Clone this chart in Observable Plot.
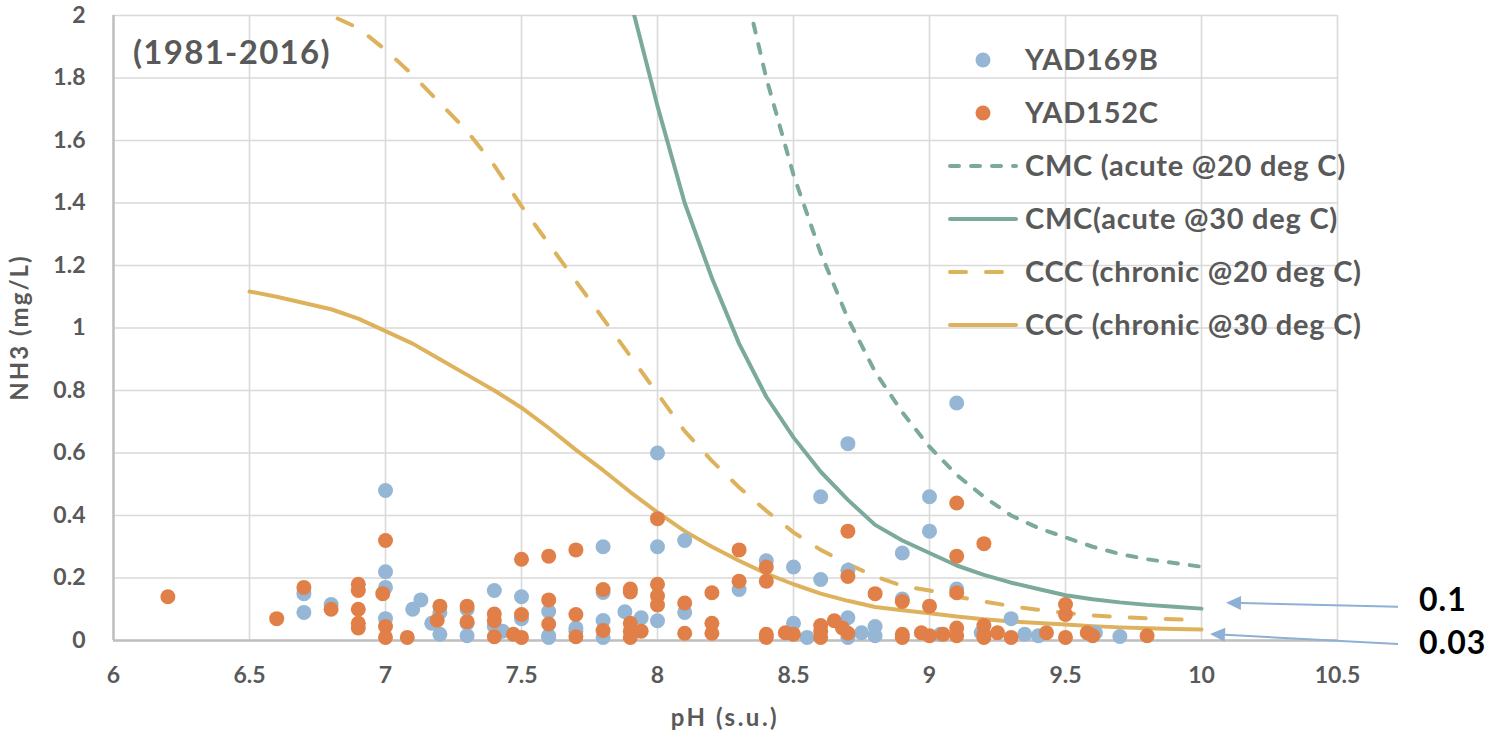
<!DOCTYPE html>
<html><head><meta charset="utf-8">
<script src="https://cdn.jsdelivr.net/npm/d3@7"></script>
<script src="https://cdn.jsdelivr.net/npm/@observablehq/plot@0.6"></script>
<style>
html,body{margin:0;padding:0;background:#fff;}
#chart{position:relative;width:1490px;height:735px;}
</style></head><body><div id="chart"></div>
<script>
// ---- data ----
const yad169bPH  = [6.7,6.7,6.8,7.0,7.0,7.0,7.0,7.1,7.13,7.17,7.2,7.2,7.3,7.3,7.3,7.4,7.4,7.43,7.5,7.5,7.6,7.6,7.6,7.7,7.7,7.8,7.8,7.8,7.8,7.88,7.94,8.0,8.0,8.0,8.1,8.1,8.3,8.4,8.5,8.5,8.55,8.6,8.6,8.7,8.7,8.7,8.7,8.75,8.8,8.8,8.9,8.9,9.0,9.0,9.04,9.1,9.1,9.19,9.3,9.35,9.4,9.61,9.7];
const yad169bNH3 = [0.15,0.09,0.115,0.48,0.22,0.17,0.07,0.10,0.13,0.055,0.09,0.02,0.10,0.055,0.015,0.16,0.045,0.03,0.14,0.07,0.093,0.015,0.01,0.04,0.03,0.30,0.154,0.064,0.01,0.092,0.073,0.60,0.30,0.063,0.32,0.09,0.163,0.255,0.235,0.055,0.01,0.46,0.195,0.63,0.225,0.073,0.01,0.025,0.045,0.015,0.28,0.133,0.46,0.35,0.02,0.76,0.165,0.025,0.07,0.02,0.015,0.025,0.013];

const yad152cPH  = [6.2,6.6,6.7,6.8,6.9,6.9,6.9,6.9,6.9,7.0,6.99,7.0,7.0,7.08,7.2,7.19,7.3,7.3,7.4,7.4,7.4,7.47,7.5,7.5,7.5,7.6,7.6,7.6,7.7,7.7,7.7,7.8,7.8,7.9,7.9,7.9,7.9,7.9,7.94,8.0,8.0,8.0,8.0,8.1,8.1,8.2,8.2,8.2,8.3,8.3,8.4,8.4,8.4,8.4,8.47,8.5,8.6,8.6,8.6,8.65,8.7,8.7,8.68,8.7,8.8,8.9,8.9,8.9,9.0,8.97,9.0,9.05,9.1,9.1,9.1,9.1,9.1,9.2,9.2,9.2,9.2,9.25,9.3,9.43,9.5,9.5,9.5,9.58,9.6,9.8];
const yad152cNH3 = [0.14,0.07,0.17,0.10,0.18,0.16,0.10,0.055,0.04,0.32,0.15,0.045,0.01,0.01,0.11,0.065,0.11,0.06,0.085,0.063,0.012,0.02,0.26,0.083,0.01,0.27,0.13,0.053,0.29,0.083,0.012,0.163,0.032,0.165,0.155,0.055,0.03,0.01,0.03,0.39,0.18,0.143,0.114,0.12,0.023,0.153,0.055,0.023,0.29,0.19,0.235,0.19,0.02,0.01,0.025,0.02,0.048,0.03,0.01,0.063,0.35,0.205,0.04,0.023,0.15,0.125,0.02,0.01,0.11,0.025,0.015,0.02,0.44,0.27,0.153,0.04,0.015,0.31,0.048,0.02,0.01,0.025,0.01,0.025,0.115,0.083,0.01,0.025,0.015,0.015];

// criteria curves (NH3 mg/L vs pH)
const cmc20PH  = [8.3,8.4,8.5,8.6,8.7,8.8,8.9,9.0,9.1,9.2,9.3,9.4,9.5,9.6,9.7,9.8,9.9,10.0];
const cmc20NH3 = [2.17,1.80,1.49,1.24,1.03,0.86,0.73,0.62,0.53,0.46,0.40,0.36,0.33,0.30,0.277,0.26,0.248,0.236];
const cmc30PH  = [7.8,7.9,8.0,8.1,8.2,8.3,8.4,8.5,8.6,8.7,8.8,8.9,9.0,9.1,9.2,9.3,9.4,9.5,9.6,9.7,9.8,9.9,10.0];
const cmc30NH3 = [2.45,2.05,1.71,1.40,1.16,0.95,0.78,0.65,0.54,0.45,0.37,0.32,0.28,0.24,0.21,0.185,0.165,0.145,0.132,0.122,0.114,0.108,0.102];
const ccc20PH  = [6.7,6.8,6.9,7.0,7.1,7.2,7.3,7.4,7.5,7.6,7.7,7.8,7.9,8.0,8.1,8.2,8.3,8.4,8.5,8.6,8.7,8.8,8.9,9.0,9.1,9.2,9.3,9.4,9.5,9.6,9.7,9.8,9.9,10.0];
const ccc20NH3 = [2.03,2.0,1.96,1.89,1.81,1.72,1.63,1.52,1.39,1.27,1.15,1.03,0.91,0.79,0.67,0.575,0.49,0.415,0.346,0.29,0.245,0.205,0.175,0.16,0.14,0.125,0.11,0.098,0.088,0.08,0.075,0.071,0.068,0.066];
const ccc30PH  = [6.5,6.6,6.7,6.8,6.9,7.0,7.1,7.2,7.3,7.4,7.5,7.6,7.7,7.8,7.9,8.0,8.1,8.2,8.3,8.4,8.5,8.6,8.7,8.8,8.9,9.0,9.1,9.2,9.3,9.4,9.5,9.6,9.7,9.8,9.9,10.0];
const ccc30NH3 = [1.117,1.10,1.08,1.06,1.03,0.99,0.95,0.90,0.85,0.80,0.745,0.68,0.61,0.545,0.475,0.41,0.35,0.30,0.255,0.214,0.18,0.15,0.127,0.107,0.097,0.087,0.077,0.068,0.061,0.056,0.051,0.046,0.042,0.039,0.037,0.035];

const xTicks = [6,6.5,7,7.5,8,8.5,9,9.5,10,10.5];
const yTicks = [0,0.2,0.4,0.6,0.8,1,1.2,1.4,1.6,1.8,2];
const seriesNames = ["YAD169B","YAD152C","CMC (acute @20 deg C)","CMC(acute @30 deg C)","CCC (chronic @20 deg C)","CCC (chronic @30 deg C)"];
const annoLabels = ["0.1","0.03"];
const annoValues = [0.1,0.03];
const titleText = "(1981-2016)";
const xTitle = "pH (s.u.)";
const yTitle = "NH3 (mg/L)";

// ---- build tables ----
const pts = (xs, ys) => xs.map((x,i) => ({x, y: ys[i]}));
const blue = pts(yad169bPH, yad169bNH3);
const orange = pts(yad152cPH, yad152cNH3);
const cmc20 = pts(cmc20PH, cmc20NH3);
const cmc30 = pts(cmc30PH, cmc30NH3);
const ccc20 = pts(ccc20PH, ccc20NH3);
const ccc30 = pts(ccc30PH, ccc30NH3);

const C_BLUE = "#95b6d5", C_ORANGE = "#e08048", C_TEAL = "#7ba99b", C_GOLD = "#deb25c", C_TEXT = "#595959", C_ARROW = "#8eb0d4";
const FONT = "Lato, 'Open Sans', sans-serif";

const chart = Plot.plot({
  width: 1490, height: 735,
  marginLeft: 113, marginRight: 153, marginTop: 15, marginBottom: 95,
  style: {fontFamily: FONT, fontWeight: 700, fontSize: "23px", color: C_TEXT, background: "#fff", overflow: "visible"},
  x: {domain: [6, 10.5], label: null},
  y: {domain: [0, 2], label: null},
  marks: [
    Plot.gridX(xTicks, {stroke: "#d9d9d9", strokeOpacity: 1, strokeWidth: 1.6}),
    Plot.gridY(yTicks, {stroke: "#d9d9d9", strokeOpacity: 1, strokeWidth: 1.6}),
    Plot.ruleX([6], {stroke: "#bfbfbf", strokeWidth: 2.5}),
    Plot.ruleY([0], {stroke: "#bfbfbf", strokeWidth: 2.5}),
    Plot.axisX(xTicks, {tickSize: 0, tickPadding: 26, label: null, tickFormat: d => String(d), fontSize: 23, fontWeight: 700}),
    Plot.axisY(yTicks, {tickSize: 0, tickPadding: 28, label: null, tickFormat: d => String(+d.toFixed(1)), fontSize: 23, fontWeight: 700}),
    Plot.line(ccc30, {x: "x", y: "y", stroke: C_GOLD, strokeWidth: 4, clip: true}),
    Plot.line(ccc20, {x: "x", y: "y", stroke: C_GOLD, strokeWidth: 4, strokeDasharray: "16,20", strokeLinecap: "round", clip: true}),
    Plot.line(cmc30, {x: "x", y: "y", stroke: C_TEAL, strokeWidth: 4, clip: true}),
    Plot.line(cmc20, {x: "x", y: "y", stroke: C_TEAL, strokeWidth: 4, strokeDasharray: "9,12", strokeLinecap: "round", clip: true}),
    Plot.dot(blue, {x: "x", y: "y", r: 7.5, fill: C_BLUE}),
    Plot.dot(orange, {x: "x", y: "y", r: 7.5, fill: C_ORANGE})
  ]
});
document.getElementById("chart").appendChild(chart);

const svg = d3.select(chart);
const sx = chart.scale("x"), sy = chart.scale("y");
const x0 = sx.apply(6), x1 = sx.apply(10.5), yTop = sy.apply(2), yBot = sy.apply(0);

// ---- titles ----
const tg = svg.append("g").attr("font-family", FONT).attr("font-weight", 700).attr("fill", C_TEXT);
tg.append("text").attr("x", x0 + 20).attr("y", yTop + 37).attr("dy", "0.35em")
  .attr("text-anchor", "start").attr("font-size", 33).attr("letter-spacing", "1.3px").text(titleText);
tg.append("text").attr("x", (x0 + x1) / 2).attr("y", yBot + 78).attr("dy", "0.35em")
  .attr("text-anchor", "middle").attr("font-size", 24).attr("letter-spacing", "2.5px").text(xTitle);
tg.append("text").attr("transform", `translate(${x0 - 93},${(yTop + yBot) / 2}) rotate(-90)`).attr("dy", "0.35em")
  .attr("text-anchor", "middle").attr("font-size", 24).attr("letter-spacing", "2px").text(yTitle);

// ---- legend (inside plot area, top right) ----
const lg = svg.append("g").attr("font-family", FONT).attr("font-weight", 700);
const legendStyles = [
  {type: "dot", color: C_BLUE},
  {type: "dot", color: C_ORANGE},
  {type: "line", color: C_TEAL, dash: "9,12"},
  {type: "line", color: C_TEAL, dash: null},
  {type: "line", color: C_GOLD, dash: "16,20"},
  {type: "line", color: C_GOLD, dash: null}
];
const lgX = 948, lgY0 = 60, lgStep = 53;
seriesNames.forEach((name, i) => {
  const cy = lgY0 + i * lgStep;
  const st = legendStyles[i];
  if (st.type === "dot") {
    lg.append("circle").attr("cx", lgX + 35).attr("cy", cy).attr("r", 7.5).attr("fill", st.color);
  } else {
    lg.append("line").attr("x1", lgX + 2).attr("x2", lgX + 68).attr("y1", cy).attr("y2", cy)
      .attr("stroke", st.color).attr("stroke-width", 4).attr("stroke-linecap", "round")
      .attr("stroke-dasharray", st.dash);
  }
  lg.append("text").attr("x", lgX + 77).attr("y", cy).attr("dy", "0.35em")
    .attr("text-anchor", "start").attr("font-size", 29).attr("letter-spacing", "0.75px")
    .attr("fill", C_TEXT).text(name);
});

// ---- annotations with arrows pointing at the criteria values at pH 10 ----
const ag = svg.append("g");
const tipOffsets = [{dx: 25, dy: -6}, {dx: 9, dy: 3.4}];
const tailOffsets = [-2, 13.4];
const labelDy = [-9, 12];
annoValues.forEach((v, i) => {
  const px = sx.apply(10), py = sy.apply(v);
  const tipX = px + tipOffsets[i].dx, tipY = py + tipOffsets[i].dy;
  const tailX = x1 + 61, tailY = py + tailOffsets[i];
  const ang = Math.atan2(tailY - tipY, tailX - tipX);
  const L = 15, W = 7;
  const bx = tipX + L * Math.cos(ang), by = tipY + L * Math.sin(ang);
  ag.append("line").attr("x1", bx).attr("y1", by).attr("x2", tailX).attr("y2", tailY)
    .attr("stroke", C_ARROW).attr("stroke-width", 2);
  ag.append("path")
    .attr("d", `M${tipX},${tipY} L${bx - W * Math.sin(ang)},${by + W * Math.cos(ang)} L${bx + W * Math.sin(ang)},${by - W * Math.cos(ang)} Z`)
    .attr("fill", C_ARROW);
  ag.append("text").attr("x", x1 + 82).attr("y", py + labelDy[i]).attr("dy", "0.35em")
    .attr("text-anchor", "start").attr("font-family", FONT).attr("font-weight", 700)
    .attr("font-size", 32).attr("letter-spacing", "1px").attr("fill", "#000")
    .text(annoLabels[i]);
});
</script>
</body></html>
